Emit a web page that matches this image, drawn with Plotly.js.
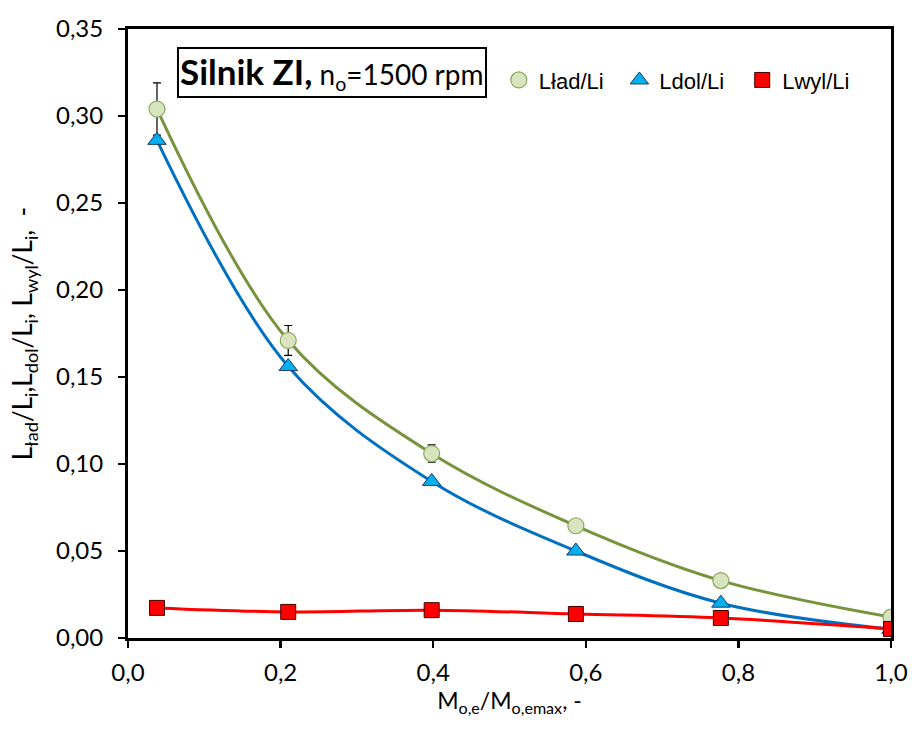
<!DOCTYPE html>
<html>
<head>
<meta charset="utf-8">
<script src="https://cdn.plot.ly/plotly-3.0.1.min.js"></script>
<style>html,body{margin:0;padding:0;background:#fff;}#chart{width:912px;height:742px;}</style>
</head>
<body>
<div id="chart"></div>
<script>
const xVals = [0.038, 0.21, 0.398, 0.587, 0.777, 1.0];
const lad = [0.304, 0.171, 0.106, 0.0645, 0.033, 0.012];
const ladErr = [0.015, 0.0086, 0.005, 0.0015, 0.0015, 0.001];
const dol = [0.286, 0.156, 0.090, 0.050, 0.020, 0.005];
const wyl = [0.0173, 0.015, 0.016, 0.0138, 0.0115, 0.0052];
const names = ['Lład/Li', 'Ldol/Li', 'Lwyl/Li'];
const yTicks = [0, 0.05, 0.10, 0.15, 0.20, 0.25, 0.30, 0.35];
const xTicks = [0, 0.2, 0.4, 0.6, 0.8, 1.0];

const traces = [
  {x: xVals, y: dol, mode: 'lines', line: {color: '#0070c0', width: 3, shape: 'spline', smoothing: 1}, showlegend: false, hoverinfo: 'skip'},
  {x: xVals, y: lad, mode: 'lines', line: {color: '#77933c', width: 3, shape: 'spline', smoothing: 1}, showlegend: false, hoverinfo: 'skip'},
  {x: xVals, y: wyl, mode: 'lines', line: {color: '#ff0000', width: 3, shape: 'spline', smoothing: 1}, showlegend: false, hoverinfo: 'skip'},
  {x: xVals, y: lad, mode: 'markers', name: names[0], legend: 'legend',
   marker: {symbol: 'circle', size: 16, color: '#d7e4bd', line: {color: '#8ea65f', width: 1.2}},
   error_y: {type: 'data', array: ladErr, visible: true, color: '#000', thickness: 1.2, width: 4}},
  {x: xVals, y: dol, mode: 'markers', name: names[1], legend: 'legend2',
   marker: {symbol: 'triangle-up', size: 16, color: '#00b0f0', line: {color: '#1f3864', width: 1}}},
  {x: xVals, y: wyl, mode: 'markers', name: names[2], legend: 'legend3',
   marker: {symbol: 'square', size: 15, color: '#ff0000', line: {color: '#400000', width: 1}}}
];

const fam = 'Lato, "Open Sans", sans-serif';
const tickFont = {family: fam, size: 24, color: '#000'};
const legFont = {family: '"Liberation Sans", Arial, sans-serif', size: 22, color: '#000'};
function leg(x) {
  return {x: x, y: 0.916, xref: 'paper', yref: 'paper', xanchor: 'left', yanchor: 'middle',
          font: legFont, bgcolor: 'rgba(0,0,0,0)', itemwidth: 30, borderwidth: 0};
}
const layout = {
  width: 912, height: 742,
  margin: {l: 128, r: 21, t: 29, b: 104},
  paper_bgcolor: '#fff', plot_bgcolor: '#fff',
  separators: ', ',
  showlegend: true,
  legend: leg(0.486),
  legend2: leg(0.644),
  legend3: leg(0.805),
  xaxis: {range: [0, 1.0], tickvals: xTicks, tickformat: '.1f', ticks: 'outside', ticklen: 7, tickwidth: 2.5,
          tickcolor: '#000', showline: true, linecolor: '#000', linewidth: 3, mirror: true, showgrid: false, zeroline: false,
          tickfont: tickFont, ticklabelstandoff: 4, automargin: false,
          title: {text: 'M<sub>o,e</sub>/M<sub>o,emax</sub>, -', font: {family: fam, size: 23, color: '#000'}, standoff: 8}},
  yaxis: {range: [0, 0.35], tickvals: yTicks, tickformat: '.2f', ticks: 'outside', ticklen: 7, tickwidth: 2.5,
          tickcolor: '#000', showline: true, linecolor: '#000', linewidth: 3, mirror: true, showgrid: false, zeroline: false,
          tickfont: tickFont, ticklabelstandoff: 10, automargin: false,
          title: {text: 'L<sub>ład</sub>/L<sub>i</sub>,L<sub>dol</sub>/L<sub>i</sub>, L<sub>wyl</sub>/L<sub>i</sub>,  -', font: {family: fam, size: 26, color: '#000'}, standoff: 16}},
  annotations: [{
    xref: 'paper', yref: 'paper', x: 0.064, y: 0.929, xanchor: 'left', yanchor: 'middle',
    text: '<b><span style="font-size:35px">Silnik ZI,</span></b> n<sub>o</sub>=1500 rpm',
    showarrow: false, font: {family: fam, size: 28, color: '#000'},
    bordercolor: '#000', borderwidth: 2, borderpad: 1, bgcolor: '#fff'
  }]
};
Plotly.newPlot('chart', traces, layout, {displayModeBar: false, staticPlot: true});
</script>
</body>
</html>
